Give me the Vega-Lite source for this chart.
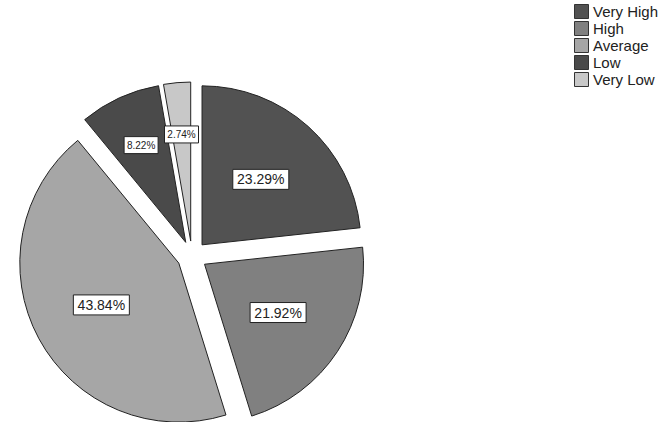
{
  "$schema": "https://vega.github.io/schema/vega-lite/v6.json",
  "width": 384,
  "height": 300,
  "autosize": "none",
  "padding": {"left": 0, "top": 106, "right": 279, "bottom": 16},
  "background": "white",
  "config": {
    "view": {"stroke": null},
    "font": "Liberation Sans"
  },
  "data": {
    "values": [
      {"cat": "Very High", "pct": 23.29, "order": 1},
      {"cat": "High", "pct": 21.92, "order": 2},
      {"cat": "Average", "pct": 43.84, "order": 3},
      {"cat": "Low", "pct": 8.22, "order": 4},
      {"cat": "Very Low", "pct": 2.74, "order": 5}
    ]
  },
  "transform": [
    {"window": [{"op": "sum", "field": "pct", "as": "cum"}], "sort": [{"field": "order"}], "frame": [null, 0]},
    {"joinaggregate": [{"op": "sum", "field": "pct", "as": "total"}]},
    {"calculate": "2*PI*(datum.cum-datum.pct)/datum.total", "as": "a0"},
    {"calculate": "2*PI*datum.cum/datum.total", "as": "a1"},
    {"calculate": "(datum.a0+datum.a1)/2", "as": "am"},
    {"calculate": "15*sin(datum.am)", "as": "cx"},
    {"calculate": "15*cos(datum.am)", "as": "cy"},
    {"calculate": "datum.pct < 10 ? 122 : 103", "as": "lr"},
    {"calculate": "datum.lr*sin(datum.am)", "as": "lx"},
    {"calculate": "datum.lr*cos(datum.am)", "as": "ly"},
    {"calculate": "format(datum.pct, '.2f') + '%'", "as": "label"}
  ],
  "layer": [
    {
      "mark": {"type": "arc", "radius": 159, "stroke": "#222222", "strokeWidth": 1, "strokeJoin": "miter"},
      "encoding": {
        "theta": {"field": "a0", "type": "quantitative", "scale": null},
        "theta2": {"field": "a1"},
        "x": {"field": "cx", "type": "quantitative", "scale": {"domain": [-192, 192]}, "axis": null},
        "y": {"field": "cy", "type": "quantitative", "scale": {"domain": [-150, 150]}, "axis": null},
        "color": {
          "field": "cat",
          "type": "nominal",
          "scale": {
            "domain": ["Very High", "High", "Average", "Low", "Very Low"],
            "range": ["#525252", "#808080", "#a6a6a6", "#4a4a4a", "#c8c8c8"]
          },
          "legend": {
            "title": null,
            "orient": "none",
            "legendX": 574,
            "legendY": -102,
            "padding": 0,
            "symbolType": "square",
            "symbolSize": 196,
            "symbolStrokeColor": "#333333",
            "symbolStrokeWidth": 1,
            "symbolOpacity": 1,
            "labelFont": "Liberation Sans",
            "labelFontSize": 15,
            "labelColor": "#222222",
            "labelOffset": 4,
            "rowPadding": -2
          }
        }
      }
    },
    {
      "mark": {"type": "point", "filled": true, "fill": "white", "stroke": "#222222", "strokeWidth": 1, "opacity": 1},
      "encoding": {
        "x": {"field": "lx", "type": "quantitative", "scale": {"domain": [-192, 192]}, "axis": null},
        "y": {"field": "ly", "type": "quantitative", "scale": {"domain": [-150, 150]}, "axis": null},
        "shape": {
          "condition": {"test": "datum.pct < 10", "value": "M-1,-0.5H1V0.5H-1Z"},
          "value": "M-1,-0.357H1V0.357H-1Z"
        },
        "size": {
          "condition": {"test": "datum.pct < 10", "value": 1156},
          "value": 3136
        }
      }
    },
    {
      "mark": {"type": "text", "font": "Liberation Sans", "color": "#222222", "baseline": "middle", "align": "center", "dy": 1},
      "encoding": {
        "x": {"field": "lx", "type": "quantitative", "scale": {"domain": [-192, 192]}, "axis": null},
        "y": {"field": "ly", "type": "quantitative", "scale": {"domain": [-150, 150]}, "axis": null},
        "text": {"field": "label"},
        "size": {
          "condition": {"test": "datum.pct < 10", "value": 10},
          "value": 14
        }
      }
    }
  ]
}
